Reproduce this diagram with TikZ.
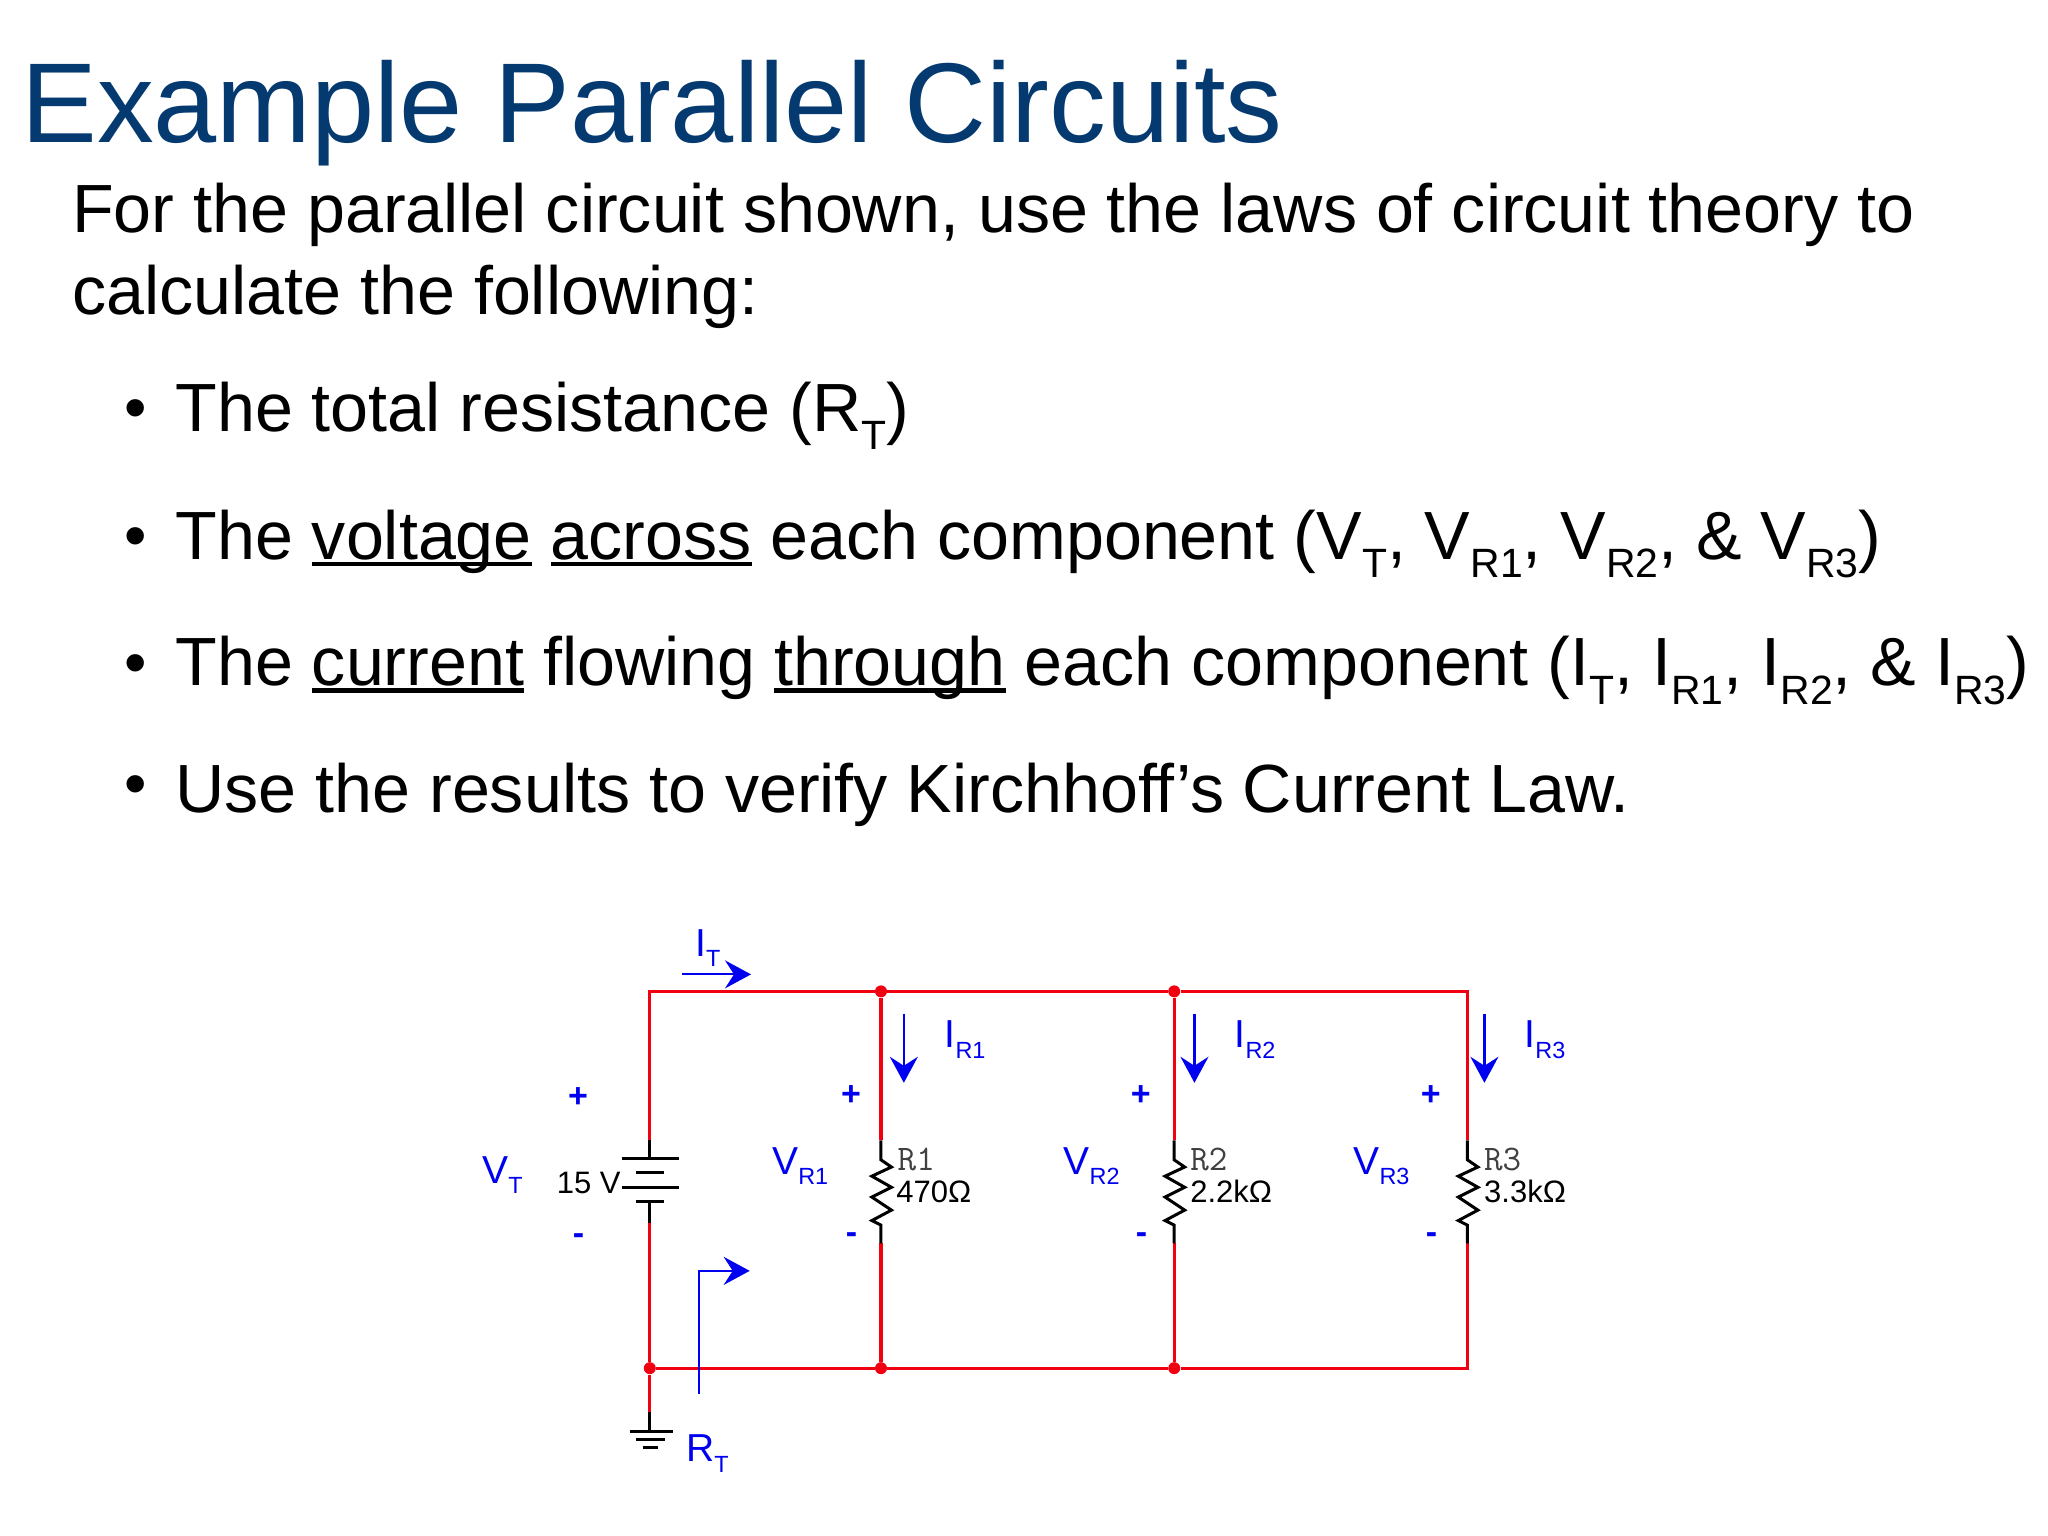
\documentclass[tikz,border=0pt]{standalone}
\usepackage{fontspec}
\setmainfont{Liberation Sans}
\usetikzlibrary{arrows.meta}
\definecolor{titleblue}{RGB}{4,58,112}
\definecolor{cblue}{RGB}{0,0,240}
\definecolor{cred}{RGB}{240,0,16}
\newcommand{\dn}[1]{\raisebox{-.27em}{\scalebox{.6}{#1}}}
\newcommand{\ul}[1]{\setbox0=\hbox{#1}\rlap{\rule[-.1em]{\wd0}{.06em}}\box0\relax}
\tikzset{x=0.653pt,y=-0.653pt,
 bodytext/.style={anchor=base west,inner sep=0pt,font=\fontsize{34.1}{34.1}\selectfont,text=black},
 titletext/.style={anchor=base west,inner sep=0pt,font=\fontsize{56.75}{56.75}\selectfont,text=titleblue},
 bullettext/.style={bodytext},
 bulletmark/.style={anchor=base west,inner sep=0pt,font=\fontsize{32}{32}\selectfont,text=black},
 lbl/.style={anchor=base west,inner sep=0pt,font=\fontsize{19.5}{19.5}\selectfont,text=cblue},
 sgn/.style={anchor=center,inner sep=0pt,font=\fontsize{17}{17}\selectfont\bfseries,text=cblue},
 comp/.style={anchor=base west,inner sep=0pt,font=\fontsize{15.5}{15.5}\selectfont,text=black},
 refd/.style={anchor=base west,inner sep=0pt,font=\fontsize{18}{18}\ttfamily\selectfont,text=black!75},
 wire/.style={draw=cred,line width=1.6pt,line join=miter},
 lead/.style={draw=black,line width=1.5pt},
 jct/.style={circle,fill=cred,inner sep=0pt,minimum size=6pt},
 ind/.style={draw=cblue,line width=1.1pt,-{Stealth[length=13pt,width=14pt,inset=4.5pt,fill=cblue]}},
}
\begin{document}
\begin{tikzpicture}
\useasboundingbox (0,0) rectangle (1568,1176);
\fill[white] (0,0) rectangle (1568,1176);
\node[titletext] (title) at (16,109) {Example Parallel Circuits};
\node[bodytext] (l1) at (55,178) {For the parallel circuit shown, use the laws of circuit theory to};
\node[bodytext] (l2) at (55,241) {calculate the following:};
\foreach \n/\y in {a/329,b/427,c/524,d/617}{\node[bulletmark] (bul\n) at (95,\y) {•};}
\node[bullettext] (b1) at (134,330) {The total resistance (R\dn{T})};
\node[bullettext] (b2) at (134,428) {The \ul{voltage} \ul{across} each component (V\dn{T}, V\dn{R1}, V\dn{R2}, \& V\dn{R3})};
\node[bullettext] (b3) at (134,525) {The \ul{current} flowing \ul{through} each component (I\dn{T}, I\dn{R1}, I\dn{R2}, \& I\dn{R3})};
\node[bullettext] (b4) at (134,622) {Use the results to verify Kirchhoff’s Current Law.};

% junctions
\node[jct] (t1) at (674.5,759) {};
\node[jct] (t2) at (899,759) {};
\node[jct] (b0) at (497.5,1047.5) {};
\node[jct] (bb1) at (674.5,1047.5) {};
\node[jct] (bb2) at (899,1047.5) {};
\coordinate (tl) at (497.5,759);
\coordinate (tr) at (1123.5,759);
\coordinate (br) at (1123.5,1047.5);
% battery leads
\coordinate (batT) at (497.5,873);
\coordinate (batTp) at (497.5,887);
\coordinate (batB) at (497.5,936);
\coordinate (batBp) at (497.5,920);
\coordinate (gndT) at (497.5,1081);
\coordinate (gndP) at (497.5,1096);
% wires
\draw[wire] (batT) -- (tl) -- (t1) -- (t2) -- (tr) -- (1123.5,873);
\draw[wire] (t1) -- (674.5,873);
\draw[wire] (t2) -- (899,873);
\draw[wire] (batB) -- (b0) -- (gndT);
\draw[wire] (b0) -- (bb1) -- (bb2) -- (br) -- (1123.5,952);
\draw[wire] (bb1) -- (674.5,952);
\draw[wire] (bb2) -- (899,952);
% battery
\draw[lead] (batT) -- (batTp);
\draw[lead] (batB) -- (batBp);
\draw[lead] (476,887) -- (520,887);
\draw[lead] (487,898) -- (508,898);
\draw[lead] (476,909) -- (520,909);
\draw[lead] (487,920) -- (508,920);
% ground
\draw[lead] (gndT) -- (gndP);
\draw[lead] (482,1096) -- (515,1096);
\draw[lead] (487,1102) -- (509,1102);
\draw[lead] (492,1108) -- (504,1108);
% resistors
\foreach \x in {674.5,899,1123.5}{
 \draw[lead,line join=miter] (\x,873) -- (\x,888) -- ++(8,5.5) -- ++(-15,7) -- ++(15,8.5) -- ++(-15,7.5) -- ++(15,10) -- ++(-15,8) -- ++(7,3.5) -- (\x,952);
}
% indicators
\draw[ind] (522,746) -- (575,746);
\draw[ind] (692,776) -- (692,829);
\draw[ind] (914.5,776) -- (914.5,829);
\draw[ind] (1136.5,776) -- (1136.5,829);
\draw[ind] (535,1067) -- (535,973) -- (574,973);
% labels
\node[lbl] (IT) at (532,732) {I\dn{T}};
\node[lbl] (IR1) at (723,802) {I\dn{R1}};
\node[lbl] (IR2) at (945,802) {I\dn{R2}};
\node[lbl] (IR3) at (1167,802) {I\dn{R3}};
\node[lbl] (VT) at (369,906) {V\dn{T}};
\node[lbl] (VR1) at (591,899) {V\dn{R1}};
\node[lbl] (VR2) at (814,899) {V\dn{R2}};
\node[lbl] (VR3) at (1036,899) {V\dn{R3}};
\node[lbl] (RT) at (525,1119) {R\dn{T}};
\node[sgn] (p0) at (442.5,840) {+};
\node[sgn] (p1) at (651.5,839) {+};
\node[sgn] (p2) at (873.5,839) {+};
\node[sgn] (p3) at (1095.5,839) {+};
\node[sgn] (m0) at (443,949) {-};
\node[sgn] (m1) at (652,948) {-};
\node[sgn] (m2) at (874,948) {-};
\node[sgn] (m3) at (1096,948) {-};
\node[comp] (v) at (426,914) {15 V};
\node[refd] (r1n) at (687,896) {R1};
\node[refd] (r2n) at (911,896) {R2};
\node[refd] (r3n) at (1136,896) {R3};
\node[comp] (r1v) at (686,921) {470Ω};
\node[comp] (r2v) at (911,921) {2.2kΩ};
\node[comp] (r3v) at (1136,921) {3.3kΩ};
\end{tikzpicture}
\end{document}
